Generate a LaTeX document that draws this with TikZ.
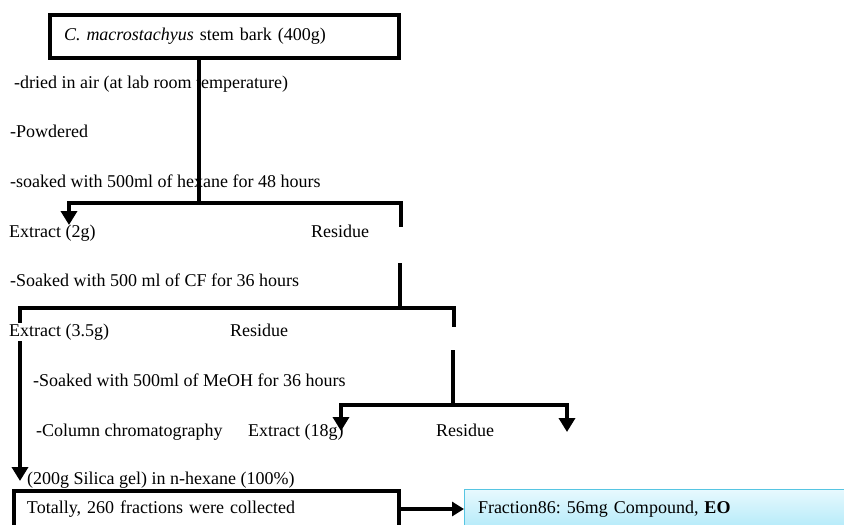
\documentclass[tikz,border=0pt]{standalone}
\usepackage{fontspec}
\setmainfont{Liberation Serif}
\usetikzlibrary{arrows.meta}
\definecolor{fracborder}{HTML}{56C5E2}
\definecolor{fractop}{HTML}{E8F9FE}
\definecolor{fracbot}{HTML}{B3EAF9}
\tikzset{
  lbl/.style={anchor=base west, inner sep=0pt, font=\fontsize{18}{21.6}\selectfont},
  conn/.style={line width=4pt, line cap=butt},
  arr/.style={conn, -{Triangle[width=16pt,length=14pt]}},
  thickbox/.style={draw, line width=4pt, outer sep=0pt, anchor=north west, align=left,
    font=\fontsize{18}{21.6}\selectfont, inner ysep=0pt}
}
\frenchspacing
\begin{document}
\begin{tikzpicture}[x=1pt,y=-1pt]
\useasboundingbox (0,0) rectangle (844,525);
\clip (0,0) rectangle (844,525);
\fill[white] (0,0) rectangle (844,525);

% top box
\node[thickbox, minimum width=349pt, minimum height=43pt, text width=321pt, inner xsep=14pt]
  (top) at (50,15) {\textit{C. macrostachyus} stem bark (400g)};

% step texts
\node[lbl] (dried) at (14,88) {-dried in air (at lab room temperature)};
\node[lbl] (powd) at (10,137) {-Powdered};
\node[lbl] (hex) at (10,187) {-soaked with 500ml of hexane for 48 hours};
\node[lbl] (ext1) at (9,237) {Extract (2g)};
\node[lbl] (res1) at (311,237) {Residue};
\node[lbl] (cf) at (10,286) {-Soaked with 500 ml of CF for 36 hours};
\node[lbl] (res2) at (230,336) {Residue};
\node[lbl] (meoh) at (33,386) {-Soaked with 500ml of MeOH for 36 hours};
\node[lbl] (col) at (36,436) {-Column chromatography};
\node[lbl] (ext3) at (248,436) {Extract (18g)};
\node[lbl] (res3) at (436,436) {Residue};
\node[lbl] (sil) at (27,484) {(200g Silica gel) in n-hexane (100\%)};

% junction coordinates
\coordinate (j1) at (199,203);
\coordinate (a1) at (69,225);
\coordinate (r1) at (401,227);
\coordinate (j2t) at (400,263);
\coordinate (j2) at (400,308);
\coordinate (r2) at (454,327);
\coordinate (a2) at (20,481);
\coordinate (j3t) at (453,350);
\coordinate (j3) at (453,405);
\coordinate (a3) at (341,431);
\coordinate (a4) at (567,432);

% first split
\draw[conn] (top.south -| j1) -- (j1);
\draw[arr] (j1) -| (a1);
\draw[conn] (j1) -| (r1);

% second split
\draw[conn] (j2t) -- (j2);
\draw[arr] (j2) -| (a2);
\draw[conn] (j2) -| (r2);

% Extract (3.5g) over the line
\node[lbl, fill=white, inner ysep=1pt] (ext2) at (9,336) {Extract (3.5g)};

% third split
\draw[conn] (j3t) -- (j3);
\draw[arr] (j3) -| (a3);
\draw[arr] (j3) -| (a4);

% bottom boxes
\node[thickbox, minimum width=385pt, minimum height=36pt, text width=359pt, inner xsep=13pt]
  (tot) at (14,491) {Totally, 260 fractions were collected};
\node[draw=fracborder, line width=1pt, outer sep=0pt, top color=fractop, bottom color=fracbot,
  anchor=north west, minimum width=400pt, minimum height=40pt, text width=386pt,
  inner xsep=14pt, inner ysep=0pt, align=left, font=\fontsize{18}{21.6}\selectfont]
  (frac) at (464,489) {Fraction86: 56mg Compound, \textbf{EO}};
\draw[line width=3.5pt, -{Triangle[width=14pt,length=12pt]}] (tot.east) -- (tot.east -| frac.west);
\end{tikzpicture}
\end{document}
